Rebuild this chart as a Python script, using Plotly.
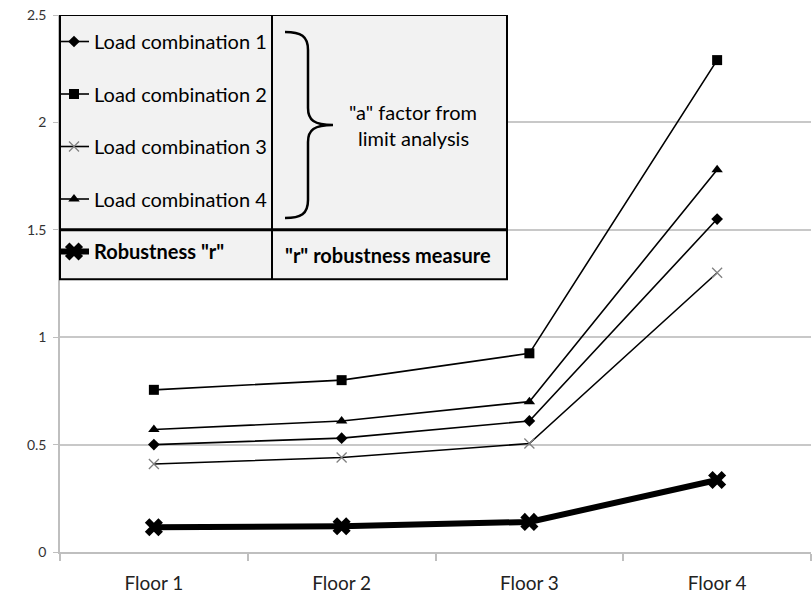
import plotly.graph_objects as go

floors = ["Floor 1", "Floor 2", "Floor 3", "Floor 4"]
lc1 = [0.50, 0.53, 0.61, 1.55]
lc2 = [0.755, 0.80, 0.925, 2.29]
lc3 = [0.41, 0.44, 0.505, 1.30]
lc4 = [0.57, 0.61, 0.70, 1.78]
robust = [0.115, 0.12, 0.14, 0.335]

FONT = "Lato"

# pixel helpers for decorations (table / brace)
L, R, T, B0 = 60, 811, 15, 551.7
def px(x):
    return (x - L) / (R - L)
def vy(y):
    return (B0 - y) / (B0 - T) * 2.5

fig = go.Figure()
series = [
    ("Load combination 1", lc1, dict(symbol="diamond", size=9, color="black")),
    ("Load combination 2", lc2, dict(symbol="square", size=10, color="black")),
    ("Load combination 3", lc3, dict(symbol="x-thin", size=10, color="#808080",
                                     line=dict(width=1.3, color="#808080"))),
    ("Load combination 4", lc4, dict(symbol="triangle-up", size=10, color="black")),
]
for i, (name, vals, mk) in enumerate(series):
    fig.add_trace(go.Scatter(x=floors, y=vals, name=name, mode="lines+markers",
                             line=dict(color="black", width=1.6), marker=mk,
                             legendgroup="g%d" % i))
fig.add_trace(go.Scatter(x=floors, y=robust, name='<b>Robustness "r"</b>',
                         mode="lines+markers", line=dict(color="black", width=6),
                         marker=dict(symbol="x", size=16, color="black"),
                         legendgroup="g4"))

box_x1 = px(507)
box_y0 = vy(279)
shapes = [
    dict(type="rect", xref="paper", yref="y", x0=0, x1=box_x1, y0=box_y0, y1=2.5,
         fillcolor="#f2f2f2", line=dict(color="black", width=2), layer="above"),
    dict(type="line", xref="paper", yref="y", x0=px(272), x1=px(272), y0=box_y0, y1=2.5,
         line=dict(color="black", width=2), layer="above"),
    dict(type="line", xref="paper", yref="y", x0=0, x1=box_x1, y0=1.5, y1=1.5,
         line=dict(color="black", width=3), layer="above"),
]
brace_pts = "M{},{} C{},{} {},{} {},{} L{},{} C{},{} {},{} {},{} C{},{} {},{} {},{} L{},{} C{},{} {},{} {},{}".format(
    px(285), vy(32), px(301), vy(32), px(308), vy(36), px(308), vy(50),
    px(308), vy(108),
    px(308), vy(120), px(314), vy(125), px(333), vy(125),
    px(314), vy(125), px(308), vy(130), px(308), vy(142),
    px(308), vy(200),
    px(308), vy(214), px(301), vy(218), px(285), vy(218))
shapes.append(dict(type="path", xref="paper", yref="y", path=brace_pts,
                   line=dict(color="black", width=2.5), layer="above"))

annotations = [
    dict(text='"a" factor from', xref="paper", yref="y", x=px(413), y=vy(112),
         showarrow=False, font=dict(family=FONT, size=20, color="black")),
    dict(text="limit analysis", xref="paper", yref="y", x=px(413), y=vy(138),
         showarrow=False, font=dict(family=FONT, size=20, color="black")),
    dict(text='<b>"r" robustness measure</b>', xref="paper", yref="y", x=px(388), y=vy(255),
         showarrow=False, font=dict(family=FONT, size=20, color="black")),
]

fig.update_layout(
    width=812, height=597,
    margin=dict(l=60, r=1, t=15, b=45),
    paper_bgcolor="white", plot_bgcolor="white",
    shapes=shapes, annotations=annotations,
    showlegend=True,
    legend=dict(x=px(54), y=(B0 - 22) / (B0 - T), xanchor="left", yanchor="top",
                bgcolor="rgba(0,0,0,0)", font=dict(family=FONT, size=20, color="black"),
                tracegroupgap=23.5, traceorder="grouped", itemwidth=30),
    xaxis=dict(type="category", range=[-0.5, 3.5], showgrid=False, showline=True,
               linecolor="#bfbfbf", linewidth=1.5, ticks="outside", tickson="boundaries",
               ticklen=7, tickcolor="#bfbfbf", tickwidth=1.5, automargin=False,
               tickfont=dict(family=FONT, size=19, color="#222"), ticklabelstandoff=13,
               fixedrange=True),
    yaxis=dict(range=[0, 2.5], dtick=0.5, showgrid=True, gridcolor="#c8c8c8", gridwidth=1.5,
               showline=True, linecolor="#bfbfbf", linewidth=1.5, ticks="outside",
               ticklen=5, tickcolor="#bfbfbf", zeroline=False, ticklabelstandoff=4,
               automargin=False,
               tickfont=dict(family=FONT, size=14, color="#333"), fixedrange=True),
)

fig.write_html("out.html")
